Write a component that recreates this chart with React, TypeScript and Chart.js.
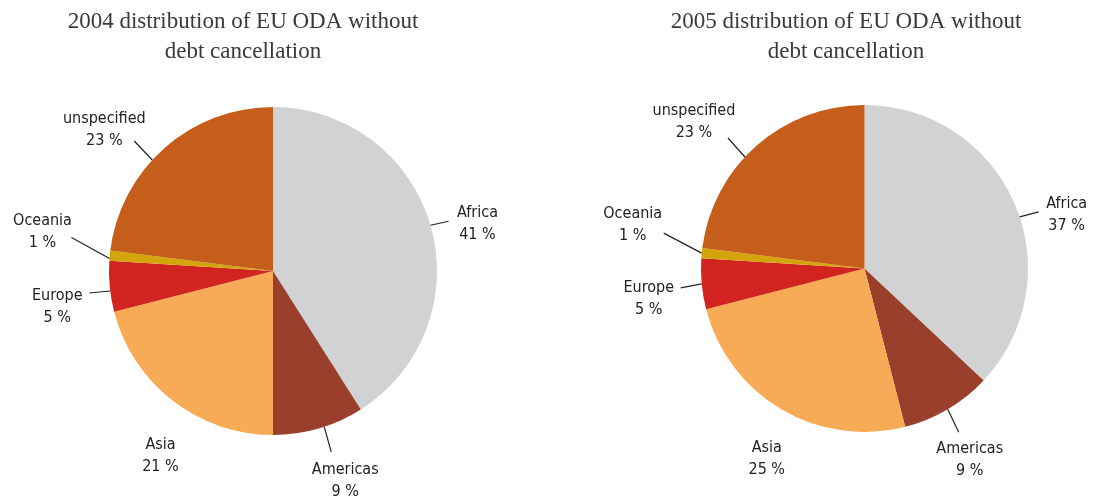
import React, { useEffect, useRef } from "react";
import { Chart, registerables } from "chart.js";

Chart.register(...registerables);

const categories = ["Africa", "Americas", "Asia", "Europe", "Oceania", "unspecified"];
const values2004 = [41, 9, 21, 5, 1, 23];
const values2005 = [37, 9, 25, 5, 1, 23];
const sliceColors = ["#d1d2d4", "#9b3f2d", "#f8ab56", "#d1231f", "#d4a50a", "#c65e1b"];
const title2004 = ["2004 distribution of EU ODA without", "debt cancellation"];
const title2005 = ["2005 distribution of EU ODA without", "debt cancellation"];

// label layout: [angle tweak deg, line dx, line dy, text dx, text dy, hasLine]
const layout2004 = [
  [0, 18, -4, 29, 3, 1],
  [-2, 7, 25, 14, 29, 1],
  [0, 0, 0, -12, 55, 0],
  [-1.6, -21, 2, -32, 14, 1],
  [-1, -38, -21, -29, -5.5, 1],
  [-6, -18, -19, -30, -11.5, 1],
];
const layout2005 = [
  [5, 19, -5, 28, 3, 1],
  [0, 11, 23, 11, 28, 1],
  [0, 0, 0, -14.5, 50, 0],
  [0, -21, 4, -32, 11, 1],
  [0, -38, -20, -31, -8, 1],
  [-5.6, -17, -19, -34, -16.5, 1],
];

const W = 1101;
const H = 499;

const labelPlugin = {
  id: "pieLabels",
  afterDraw(chart: any, _args: any, opts: any) {
    const ctx = chart.ctx;
    const meta = chart.getDatasetMeta(0);
    const values = chart.data.datasets[0].data;
    const labels = chart.data.labels;
    ctx.save();
    // title
    ctx.fillStyle = "#3a3a3a";
    ctx.font = "23px 'Liberation Serif'";
    ctx.textAlign = "center";
    ctx.textBaseline = "alphabetic";
    opts.title.forEach((line: string, i: number) => {
      ctx.fillText(line, opts.titleX, 28 + i * 30);
    });
    // labels
    ctx.font = "16px 'DejaVu Sans Condensed', 'Roboto', sans-serif";
    ctx.fillStyle = "#222";
    ctx.strokeStyle = "#222";
    ctx.lineWidth = 1.2;
    ctx.textBaseline = "middle";
    meta.data.forEach((arc: any, i: number) => {
      const lay = opts.layout[i];
      const mid = (arc.startAngle + arc.endAngle) / 2 + (lay[0] * Math.PI) / 180;
      const sx = arc.x + arc.outerRadius * Math.cos(mid);
      const sy = arc.y + arc.outerRadius * Math.sin(mid);
      const ex = sx + lay[1];
      const ey = sy + lay[2];
      if (lay[5]) {
        ctx.beginPath();
        ctx.moveTo(sx, sy);
        ctx.lineTo(ex, ey);
        ctx.stroke();
      }
      const tx = ex + lay[3];
      const ty = ey + lay[4];
      ctx.fillText(String(labels[i]), tx, ty - 11);
      ctx.fillText(values[i] + " %", tx, ty + 11);
    });
    ctx.restore();
  },
};

function PieCanvas(props: { values: number[]; title: string[]; titleX: number; layout: number[][]; padding: any }) {
  const ref = useRef<HTMLCanvasElement>(null);
  useEffect(() => {
    if (!ref.current) return;
    const chart = new Chart(ref.current, {
      type: "pie",
      data: {
        labels: categories,
        datasets: [
          {
            data: props.values,
            backgroundColor: sliceColors,
            borderWidth: 0,
          },
        ],
      },
      options: {
        responsive: false,
        animation: false,
        layout: { padding: props.padding },
        plugins: {
          legend: { display: false },
          tooltip: { enabled: false },
          title: { display: false },
          pieLabels: { title: props.title, titleX: props.titleX, layout: props.layout },
        } as any,
      },
      plugins: [labelPlugin],
    });
    return () => chart.destroy();
  }, []);
  return (
    <canvas
      ref={ref}
      width={W}
      height={H}
      style={{ position: "absolute", left: 0, top: 0, width: W, height: H }}
    />
  );
}

export default function App() {
  return (
    <div style={{ position: "fixed", left: 0, top: 0, width: W, height: H, background: "#fff" }}>
      <PieCanvas
        values={values2004}
        title={title2004}
        titleX={243}
        layout={layout2004}
        padding={{ left: 109, right: 664, top: 107, bottom: 64 }}
      />
      <PieCanvas
        values={values2005}
        title={title2005}
        titleX={846}
        layout={layout2005}
        padding={{ left: 701, right: 73, top: 105, bottom: 67 }}
      />
    </div>
  );
}
